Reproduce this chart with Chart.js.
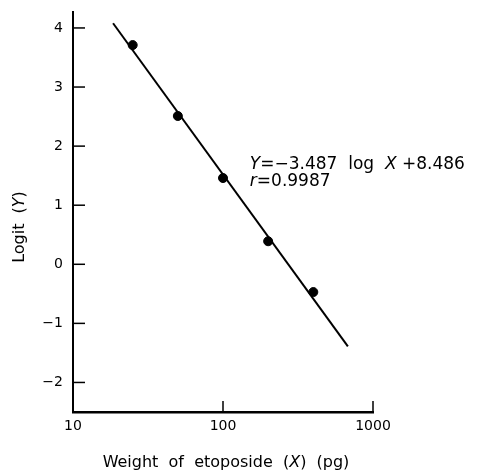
<!DOCTYPE html>
<html>
<head>
<meta charset="utf-8">
<script src="https://cdn.jsdelivr.net/npm/chart.js@4/dist/chart.umd.min.js"></script>
<style>
  html, body { margin: 0; padding: 0; background: #fff; }
  #wrap { width: 479px; height: 472px; }
</style>
</head>
<body>
<div id="wrap"><canvas id="myChart" width="479" height="472"></canvas></div>
<script>
// measured points: weight of etoposide (pg) vs logit
const weights = [25, 50, 100, 200, 400];
const logits = [3.71, 2.51, 1.46, 0.39, -0.47];
// regression line at its two ends
const lineX = [18.5, 680];
const lineY = [4.08, -1.39];
const xTicks = [10, 100, 1000];
const yTicks = [-2, -1, 0, 1, 2, 3, 4];
const eqAnchor = { x: 151, y: 1.69 };

const FONT = '"DejaVu Sans", "Liberation Sans", sans-serif';

// draws inward ticks, axis titles and the equation
const extras = {
  id: 'extras',
  afterDraw(chart) {
    const ctx = chart.ctx;
    const xs = chart.scales.x, ys = chart.scales.y;
    const area = chart.chartArea;
    ctx.save();
    ctx.strokeStyle = '#000';
    ctx.lineWidth = 1.5;
    yTicks.forEach(v => {
      const py = ys.getPixelForValue(v);
      ctx.beginPath(); ctx.moveTo(area.left, py); ctx.lineTo(area.left + 12, py); ctx.stroke();
    });
    xTicks.slice(1).forEach(v => {
      const px = xs.getPixelForValue(v);
      ctx.beginPath(); ctx.moveTo(px, area.bottom); ctx.lineTo(px, area.bottom - 11); ctx.stroke();
    });

    ctx.fillStyle = '#000';
    ctx.textBaseline = 'middle';
    const drawParts = (parts, x, y, align, size) => {
      let total = 0;
      parts.forEach(p => { ctx.font = p[1] + ' ' + size + 'px ' + FONT; total += ctx.measureText(p[0]).width; });
      let cx = align === 'center' ? x - total / 2 : x;
      ctx.textAlign = 'left';
      parts.forEach(p => {
        ctx.font = p[1] + ' ' + size + 'px ' + FONT;
        ctx.fillText(p[0], cx, y);
        cx += ctx.measureText(p[0]).width;
      });
    };

    // equation
    const ex = xs.getPixelForValue(eqAnchor.x), ey = ys.getPixelForValue(eqAnchor.y);
    drawParts([['Y', 'italic'], ['=\u22123.487  log  ', 'normal'], ['X', 'italic'], [' +8.486', 'normal']], ex, ey, 'left', 17);
    drawParts([['r', 'italic'], ['=0.9987', 'normal']], ex, ey + 17, 'left', 17);

    // x title
    drawParts([['Weight  of  etoposide  (', 'normal'], ['X', 'italic'], [')  (pg)', 'normal']], 226, 463, 'center', 16);

    // y title
    ctx.translate(20, 227);
    ctx.rotate(-Math.PI / 2);
    drawParts([['Logit  (', 'normal'], ['Y', 'italic'], [')', 'normal']], 0, 0, 'center', 16);
    ctx.restore();
  }
};

new Chart(document.getElementById('myChart').getContext('2d'), {
  type: 'scatter',
  data: {
    datasets: [
      {
        label: 'Observed',
        data: weights.map((w, i) => ({ x: w, y: logits[i] })),
        backgroundColor: '#000',
        borderColor: '#000',
        pointRadius: 4.5,
        showLine: false
      },
      {
        label: 'Fit',
        data: lineX.map((w, i) => ({ x: w, y: lineY[i] })),
        borderColor: '#000',
        borderWidth: 2,
        pointRadius: 0,
        showLine: true
      }
    ]
  },
  options: {
    responsive: false,
    animation: false,
    layout: { padding: { left: 0, right: 106, top: 12, bottom: 0 } },
    plugins: { legend: { display: false }, tooltip: { enabled: false } },
    scales: {
      x: {
        type: 'logarithmic',
        min: 10,
        max: 1000,
        afterBuildTicks: s => { s.ticks = xTicks.map(v => ({ value: v })); },
        afterFit: s => { s.height = 60; s.paddingLeft = 0; s.paddingRight = 0; },
        grid: { display: false, drawTicks: false },
        border: { display: true, color: '#000', width: 2.5 },
        ticks: {
          color: '#000',
          padding: 6,
          maxRotation: 0,
          font: { family: FONT, size: 14 },
          callback: v => String(v)
        }
      },
      y: {
        min: -2.5,
        max: 4.27,
        afterBuildTicks: s => { s.ticks = yTicks.map(v => ({ value: v })); },
        afterFit: s => { s.width = 73; s.paddingTop = 0; s.paddingBottom = 0; },
        grid: { display: false, drawTicks: false },
        border: { display: true, color: '#000', width: 2 },
        ticks: {
          color: '#000',
          padding: 10,
          font: { family: FONT, size: 14 },
          callback: v => v < 0 ? '\u2212' + Math.abs(v) : String(v)
        }
      }
    }
  },
  plugins: [extras]
});
</script>
</body>
</html>
